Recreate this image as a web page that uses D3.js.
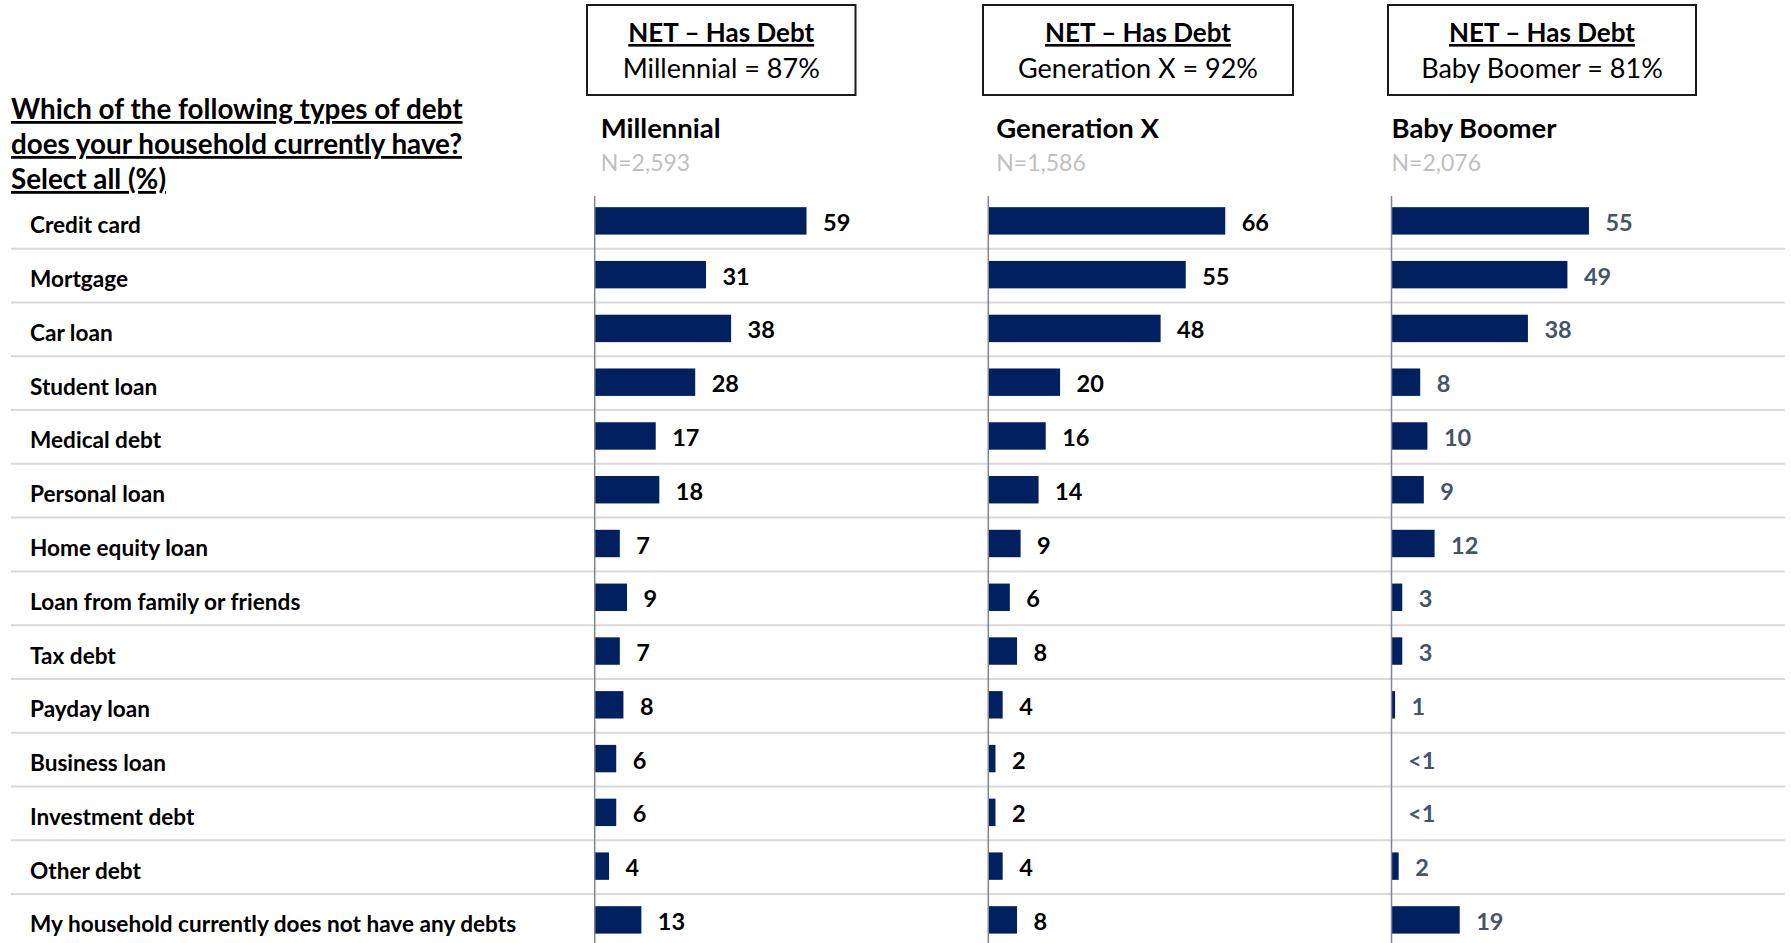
<!DOCTYPE html>
<html>
<head>
<meta charset="utf-8">
<script src="https://cdn.jsdelivr.net/npm/d3@7"></script>
<style>
  body { margin: 0; background: #fff; }
  svg text { font-family: Lato, "Noto Sans", sans-serif; }
</style>
</head>
<body>
<div id="chart"></div>
<script>
var categories = ["Credit card", "Mortgage", "Car loan", "Student loan", "Medical debt", "Personal loan",
  "Home equity loan", "Loan from family or friends", "Tax debt", "Payday loan", "Business loan",
  "Investment debt", "Other debt", "My household currently does not have any debts"];
var generations = ["Millennial", "Generation X", "Baby Boomer"];
var sampleSizes = ["N=2,593", "N=1,586", "N=2,076"];
var netHasDebt = [87, 92, 81];
var millennial = [59, 31, 38, 28, 17, 18, 7, 9, 7, 8, 6, 6, 4, 13];
var genX = [66, 55, 48, 20, 16, 14, 9, 6, 8, 4, 2, 2, 4, 8];
var babyBoomer = [55, 49, 38, 8, 10, 9, 12, 3, 3, 1, 0, 0, 2, 19]; // 0 shown as "<1"
var question = ["Which of the following types of debt", "does your household currently have?", "Select all (%)"];

var width = 1791, height = 943;
var series = [millennial, genX, babyBoomer];
var panelX = [594.7, 988.3, 1391.5];
var headerShift = [6, 8, 0];
var boxes = [[587, 855.5], [983, 1293], [1388, 1696]];
var labelColor = ["#000", "#000", "#44546a"];

var svg = d3.select("#chart").append("svg")
  .attr("width", width)
  .attr("height", height);

var y = d3.scaleBand()
  .domain(categories)
  .range([194, 194 + categories.length * 53.77])
  .paddingInner(0.49)
  .paddingOuter(0.245);

var x = d3.scaleLinear()
  .domain([0, 100])
  .range([0, 359]);

var step = y.step();
var bandTop = function(d) { return y(d) - y.paddingOuter() * step; };
var mid = function(d) { return y(d) + y.bandwidth() / 2; };

// question
svg.append("g").selectAll("text")
  .data(question)
  .enter().append("text")
  .attr("x", 11)
  .attr("y", function(d, i) { return 119 + i * 35; })
  .style("font-size", "27.8px")
  .style("font-weight", "bold")
  .style("text-decoration", "underline")
  .text(function(d) { return d; });

// row dividers
svg.append("g").selectAll("line")
  .data(categories.slice(1))
  .enter().append("line")
  .attr("x1", 11)
  .attr("x2", 1785)
  .attr("y1", function(d) { return bandTop(d) + 1; })
  .attr("y2", function(d) { return bandTop(d) + 1; })
  .attr("stroke", "#d9d9d9")
  .attr("stroke-width", 2);

// category labels
svg.append("g").selectAll("text")
  .data(categories)
  .enter().append("text")
  .attr("x", 30)
  .attr("y", function(d) { return mid(d) + 12.5; })
  .style("font-size", "22.6px")
  .style("font-weight", "bold")
  .text(function(d) { return d; });

generations.forEach(function(gen, p) {
  var g = svg.append("g").attr("transform", "translate(" + panelX[p] + ",0)");
  var vals = series[p];

  // NET box
  var bx = boxes[p][0] - panelX[p], bw = boxes[p][1] - boxes[p][0];
  g.append("rect")
    .attr("x", bx)
    .attr("y", 5)
    .attr("width", bw)
    .attr("height", 90)
    .attr("fill", "none")
    .attr("stroke", "#1a1a1a")
    .attr("stroke-width", 2);
  g.append("text")
    .attr("x", bx + bw / 2)
    .attr("y", 42)
    .attr("text-anchor", "middle")
    .style("font-size", "26px")
    .style("font-weight", "bold")
    .style("text-decoration", "underline")
    .text("NET \u2013 Has Debt");
  g.append("text")
    .attr("x", bx + bw / 2)
    .attr("y", 78)
    .attr("text-anchor", "middle")
    .style("font-size", "27px")
    .text(gen + " = " + netHasDebt[p] + "%");

  // header
  g.append("text")
    .attr("x", headerShift[p])
    .attr("y", 138)
    .style("font-size", "27.5px")
    .style("font-weight", "bold")
    .text(gen);
  g.append("text")
    .attr("x", headerShift[p])
    .attr("y", 171)
    .style("font-size", "23px")
    .style("fill", "#bfbfbf")
    .text(sampleSizes[p]);

  g.selectAll("rect.bar")
    .data(categories)
    .enter().append("rect")
    .attr("class", "bar")
    .attr("x", 0)
    .attr("y", function(d) { return y(d); })
    .attr("width", function(d, i) { return x(vals[i]); })
    .attr("height", y.bandwidth())
    .attr("fill", "#002060");

  g.selectAll("text.val")
    .data(categories)
    .enter().append("text")
    .attr("class", "val")
    .attr("x", function(d, i) { return x(vals[i]) + 16.5; })
    .attr("y", function(d) { return mid(d) + 10; })
    .style("font-size", "23.5px")
    .style("font-weight", "bold")
    .style("fill", labelColor[p])
    .text(function(d, i) { return vals[i] < 1 ? "<1" : vals[i]; });

  // axis line
  g.append("line")
    .attr("x1", 0).attr("x2", 0)
    .attr("y1", y.range()[0] + 2)
    .attr("y2", height)
    .attr("stroke", "#7f8591")
    .attr("stroke-width", 1.5);
});
</script>
</body>
</html>
